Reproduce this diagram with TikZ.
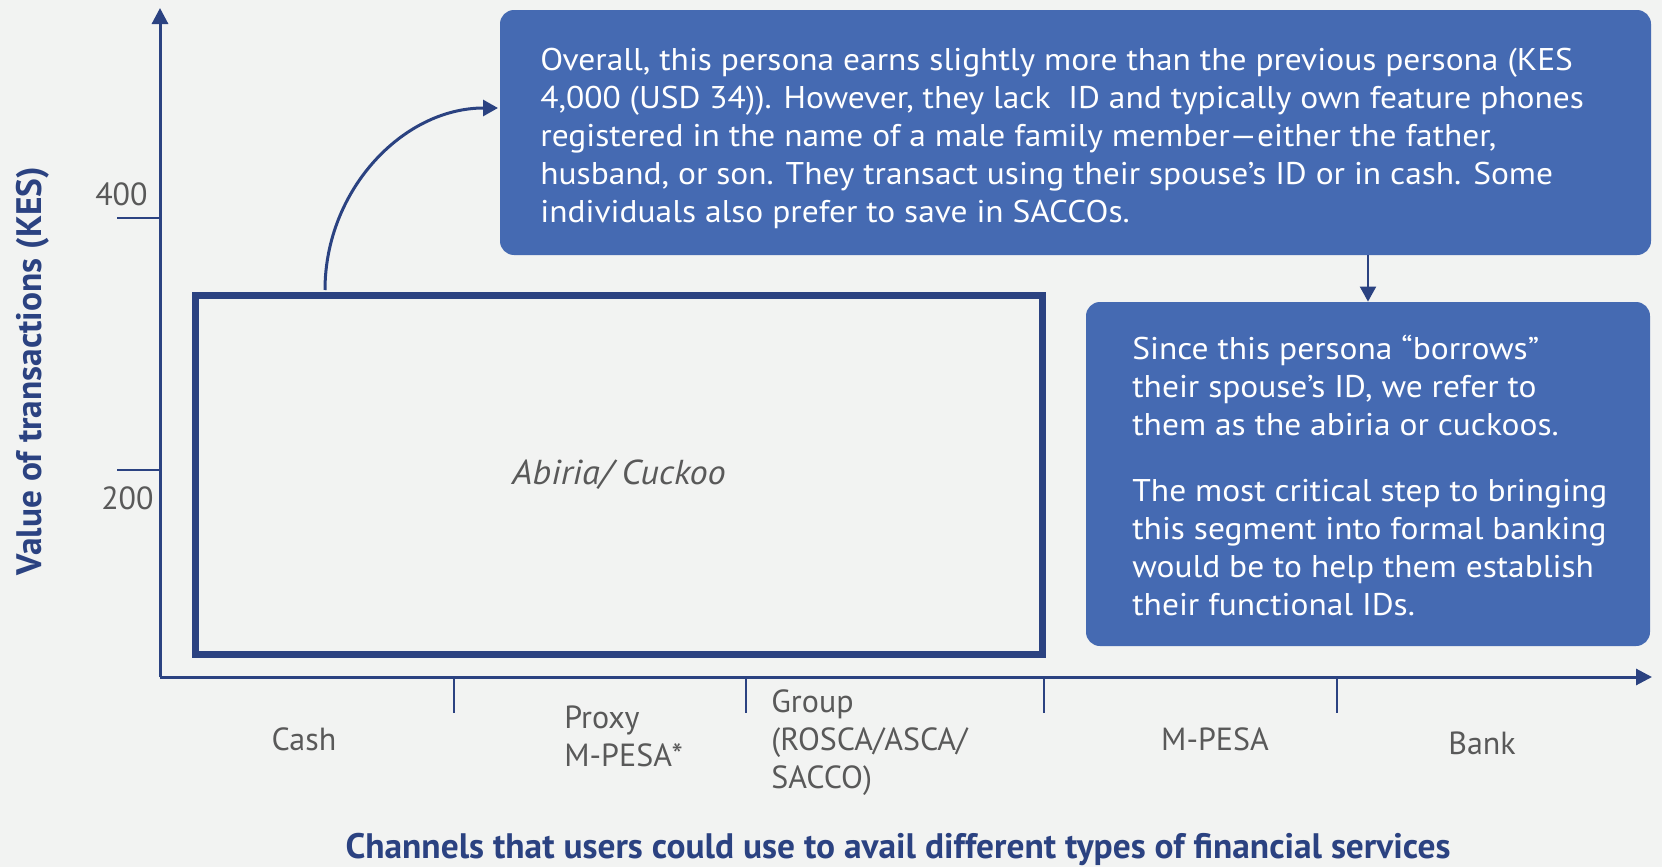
\documentclass[tikz,border=0pt]{standalone}
\usepackage{fontspec}
\setmainfont{PT Sans}
\newfontfamily\widefont[FakeStretch=1.065]{PT Sans}
\newfontfamily\wideitfont[FakeStretch=1.05]{PT Sans Italic}
\usetikzlibrary{arrows.meta}
\definecolor{bg}{HTML}{F2F3F2}
\definecolor{navy}{HTML}{2B4281}
\definecolor{boxblue}{HTML}{456AB2}
\definecolor{greytxt}{HTML}{595959}
\tikzset{
  px/.style={x=0.5pt,y=-0.5pt},
  axis/.style={navy,line width=1.5pt},
  tick/.style={navy,line width=1pt},
  bluebox/.style={fill=boxblue,rounded corners=7pt,inner sep=0pt},
  bodytxt/.style={white,inner sep=0pt,font=\widefont\fontsize{15.7}{19}\selectfont},
  cattxt/.style={greytxt,inner sep=0pt,font=\fontsize{16}{19}\selectfont},
  titletxt/.style={navy,inner sep=0pt,font=\fontsize{17.7}{21}\selectfont\bfseries},
}
\begin{document}
\begin{tikzpicture}[px]
\useasboundingbox (0,0) rectangle (1662,867);
\fill[bg] (0,0) rectangle (1662,867);
% axes
\coordinate (O) at (160,677);
\coordinate (ytip) at (160,8);
\coordinate (xtip) at (1652,677);
\draw[axis,-{Triangle[length=8pt,width=8pt]}] (O) -- (ytip);
\draw[axis,-{Triangle[length=8pt,width=8pt]}] (O) -- (xtip);
% y ticks
\coordinate (t400) at (160,218);
\coordinate (t200) at (160,470);
\draw[tick] (t400) -- ++(-43,0);
\draw[tick] (t200) -- ++(-43,0);
\node[cattxt,anchor=base east] (l400) at (148,205) {400};
\node[cattxt,anchor=base east] (l200) at (154,509) {200};
% x ticks
\foreach \x [count=\i] in {454,746,1044,1337} {
  \coordinate (xt\i) at (\x,677);
  \draw[tick] (xt\i) -- ++(0,36);
}
% category labels
\node[cattxt,anchor=base] (cash) at (304,750) {Cash};
\node[cattxt,anchor=base west] (proxy) at (564,728) {\begin{tabular}[t]{@{}l@{}}Proxy\\M-PESA*\end{tabular}};
\node[cattxt,anchor=base west] (group) at (771,712) {\begin{tabular}[t]{@{}l@{}}Group\\(ROSCA/ASCA/\\SACCO)\end{tabular}};
\node[cattxt,anchor=base] (mpesa) at (1215,750) {M-PESA};
\node[cattxt,anchor=base] (bank) at (1482,754) {Bank};
% axis titles
\node[titletxt,anchor=base] (xtitle) at (898,858) {Channels that users could use to avail different types of financial services};
\node[titletxt,rotate=90] (ytitle) at (33,371) {Value of transactions (KES)};
% main rectangle
\node[draw=navy,line width=3.5pt,minimum width=423.5pt,minimum height=179.5pt,inner sep=0pt,
      font=\wideitfont\fontsize{17.3}{20}\selectfont,text=greytxt] (main) at (619,475) {Abiria/ Cuckoo};
% top box
\node[bluebox,minimum width=575.5pt,minimum height=122.5pt] (top) at (1075.5,132.5) {};
\node[bodytxt,anchor=base west] (toptxt) at (540,70) {\begin{tabular}[t]{@{}l@{}}
Overall, this persona earns slightly more than the previous persona (KES\\
4,000 (USD 34)). However, they lack\ \ ID and typically own feature phones\\
registered in the name of a male family member—either the father,\\
husband, or son. They transact using their spouse’s ID or in cash. Some\\
individuals also prefer to save in SACCOs.\end{tabular}};
% second box
\node[bluebox,minimum width=282pt,minimum height=172pt] (b2) at (1368,474) {};
\node[bodytxt,anchor=base west] (b2txt) at (1132,359) {\begin{tabular}[t]{@{}l@{}}
Since this persona “borrows”\\
their spouse’s ID, we refer to\\
them as the abiria or cuckoos.\\[14pt]
The most critical step to bringing\\
this segment into formal banking\\
would be to help them establish\\
their functional IDs.\end{tabular}};
% connectors
\coordinate (ds) at (1368,255);
\draw[navy,line width=1pt,-{Triangle[length=7.5pt,width=8pt]}] (ds) -- (ds |- b2.north);
\coordinate (cs) at (325,290);
\coordinate (ce) at (498,108);
\draw[navy,line width=1.5pt,-{Triangle[length=7.5pt,width=8pt]}] (cs) .. controls (325,190) and (403,108) .. (ce);
\end{tikzpicture}
\end{document}
